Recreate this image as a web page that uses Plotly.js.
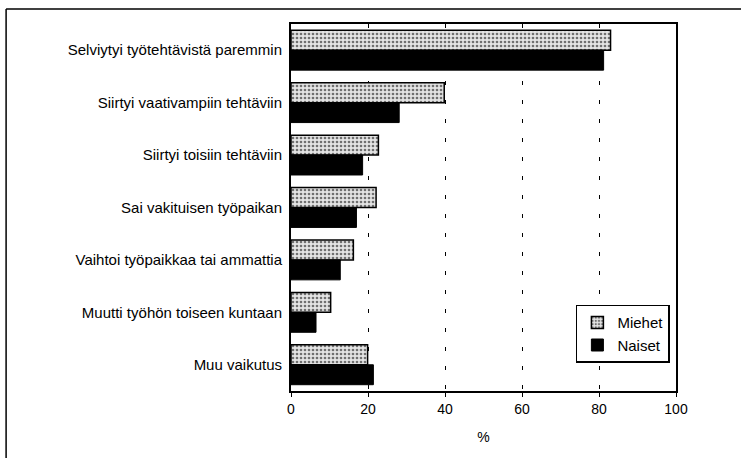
<!DOCTYPE html>
<html><head><meta charset="utf-8">
<script src="https://cdn.plot.ly/plotly-3.0.1.min.js"></script>
<style>html,body{margin:0;padding:0;background:#fff}#chart{width:741px;height:458px}</style>
</head><body><div id="chart"></div>
<script>
const categories = [
  "Selviytyi työtehtävistä paremmin",
  "Siirtyi vaativampiin tehtäviin",
  "Siirtyi toisiin tehtäviin",
  "Sai vakituisen työpaikan",
  "Vaihtoi työpaikkaa tai ammattia",
  "Muutti työhön toiseen kuntaan",
  "Muu vaikutus"
];
const miehet = [83.0, 39.8, 22.7, 22.1, 16.2, 10.3, 19.9];
const naiset = [81.2, 28.1, 18.6, 17.0, 12.8, 6.5, 21.4];
const xTicks = [0, 20, 40, 60, 80, 100];

const fam = "Liberation Sans, Arial, sans-serif";
const font = {family: fam, size: 15, color: "#000"};

const traces = [
  {type: "bar", orientation: "h", name: "Miehet", y: categories, x: miehet,
   marker: {color: "#d4d4d4", line: {color: "#000", width: 1.5},
            pattern: {shape: ".", bgcolor: "#e4e4e4", fgcolor: "#707070", size: 4, solidity: 0.35}},
   hoverinfo: "none"},
  {type: "bar", orientation: "h", name: "Naiset", y: categories, x: naiset,
   marker: {color: "#000", line: {color: "#000", width: 1}},
   hoverinfo: "none"}
];

const layout = {
  width: 741, height: 458,
  margin: {l: 291, r: 65, t: 24, b: 67},
  paper_bgcolor: "#fff", plot_bgcolor: "#fff",
  font: font,
  barmode: "group", bargap: 0.24, bargroupgap: 0,
  showlegend: true,
  legend: {x: 0.74, y: 0.235, xanchor: "left", yanchor: "top",
           bgcolor: "#fff", bordercolor: "#000", borderwidth: 1.5,
           font: {family: fam, size: 15, color: "#000"},
           itemwidth: 30, tracegroupgap: 2},
  xaxis: {range: [0, 100], tickvals: xTicks, ticktext: xTicks.map(String),
          showgrid: true, gridcolor: "#000", gridwidth: 1, griddash: "4px,15px",
          zeroline: false, showline: true, linecolor: "#000", linewidth: 2, mirror: true,
          ticks: "outside", ticklen: 4, tickcolor: "#000", tickwidth: 1,
          tickfont: {family: fam, size: 14, color: "#000"},
          title: {text: "%", font: {family: fam, size: 14, color: "#000"}, standoff: 16}},
  yaxis: {autorange: "reversed", showline: true, linecolor: "#000", linewidth: 2, mirror: true,
          showgrid: false, ticks: "", tickfont: font, ticklabelstandoff: 4},
  shapes: [
    {type: "line", xref: "paper", yref: "paper", x0: -0.74, x1: 1.2, y0: 1.041, y1: 1.041,
     line: {color: "#000", width: 1.5}},
    {type: "line", xref: "paper", yref: "paper", x0: -0.74, x1: -0.74, y0: 1.041, y1: -0.2,
     line: {color: "#000", width: 1.5}}
  ]
};

Plotly.newPlot("chart", traces, layout, {displayModeBar: false, staticPlot: true});
</script></body></html>
